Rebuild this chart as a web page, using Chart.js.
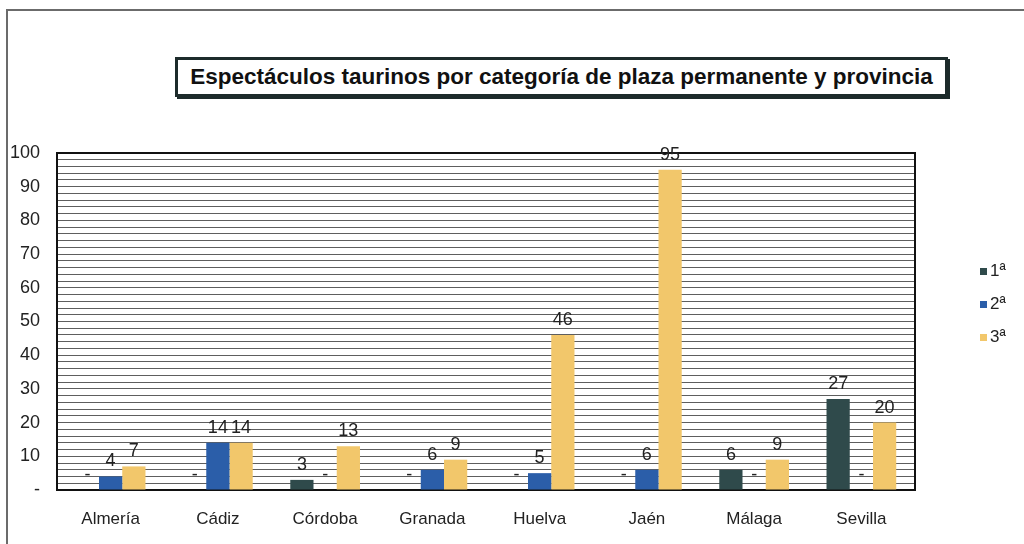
<!DOCTYPE html>
<html lang="es">
<head>
<meta charset="utf-8">
<title>Espectáculos taurinos por categoría de plaza permanente y provincia</title>
<script src="https://cdn.jsdelivr.net/npm/chart.js@4.4.1/dist/chart.umd.min.js"></script>
<style>
    html, body { margin: 0; padding: 0; background: #fff; }
    #wrap { position: relative; width: 1024px; height: 544px; overflow: hidden; }
    #marco { position: absolute; left: 6px; top: 9px; width: 1040px; height: 560px;
             border-left: 2px solid #6b6b6b; border-top: 2px solid #6b6b6b; }
    #titulo { position: absolute; left: 175px; top: 57px; width: 767px; height: 34px;
              border: 3px solid #1d2b2b; box-shadow: 2px 2px 0 #1d2b2b;
              font: bold 22.5px "Liberation Sans", Arial, sans-serif; white-space: nowrap;
              line-height: 34px; text-align: center; color: #111; }
    canvas { position: absolute; left: 0; top: 0; }
</style>
</head>
<body>
<div id="wrap">
    <div id="marco"></div>
    <div id="titulo">Espectáculos taurinos por categoría de plaza permanente y provincia</div>
    <canvas id="grafico" width="1024" height="544"></canvas>
</div>
<script>
// datos (0 = "-")
const provincias = ['Almería', 'Cádiz', 'Córdoba', 'Granada', 'Huelva', 'Jaén', 'Málaga', 'Sevilla'];
const categorias = ['1ª', '2ª', '3ª'];
const primera = [0, 0, 3, 0, 0, 0, 6, 27];
const segunda = [4, 14, 0, 6, 5, 6, 0, 0];
const tercera = [7, 14, 13, 9, 46, 95, 9, 20];
const marcasY = [10, 20, 30, 40, 50, 60, 70, 80, 90, 100];

const colores = ['#2f4a4b', '#2b5ea9', '#f2c76b'];
const fuente = '"Liberation Sans", Arial, sans-serif';

// borde negro alrededor del área del gráfico
const marcoPlot = {
    id: 'marcoPlot',
    beforeDatasetsDraw(chart) {
        const { ctx, chartArea: a } = chart;
        ctx.save();
        ctx.strokeStyle = '#111';
        ctx.lineWidth = 2;
        ctx.strokeRect(a.left, a.top, a.right - a.left, a.bottom - a.top);
        ctx.restore();
    }
};

// valores encima de cada barra
const etiquetas = {
    id: 'etiquetas',
    afterDatasetsDraw(chart) {
        const ctx = chart.ctx;
        ctx.save();
        ctx.fillStyle = '#222';
        ctx.textAlign = 'center';
        ctx.textBaseline = 'middle';
        ctx.font = '18px ' + fuente;
        chart.data.datasets.forEach((ds, i) => {
            chart.getDatasetMeta(i).data.forEach((bar, j) => {
                const v = ds.data[j];
                ctx.fillText(v === 0 ? '-' : String(v), bar.x, bar.y - 15);
            });
        });
        ctx.restore();
    }
};

// leyenda a la derecha
const leyenda = {
    id: 'leyenda',
    afterDraw(chart) {
        const ctx = chart.ctx;
        ctx.save();
        ctx.font = '17px ' + fuente;
        ctx.textBaseline = 'middle';
        ctx.textAlign = 'left';
        chart.data.datasets.forEach((ds, i) => {
            const y = 271 + i * 33;
            ctx.fillStyle = ds.backgroundColor;
            ctx.fillRect(980, y - 3, 7, 7);
            ctx.fillStyle = '#222';
            ctx.fillText(ds.label, 990, y);
        });
        ctx.restore();
    }
};

const datasets = [primera, segunda, tercera].map((serie, i) => ({
    label: categorias[i],
    data: serie,
    backgroundColor: colores[i],
    borderWidth: 0,
    barPercentage: 1.0,
    categoryPercentage: 0.65
}));

new Chart(document.getElementById('grafico'), {
    type: 'bar',
    data: { labels: provincias, datasets: datasets },
    plugins: [marcoPlot, etiquetas, leyenda],
    options: {
        responsive: false,
        animation: false,
        layout: { padding: { top: 153, right: 109, left: 0, bottom: 0 } },
        plugins: {
            legend: { display: false },
            title: { display: false },
            tooltip: { enabled: false }
        },
        scales: {
            x: {
                grid: { display: false, drawTicks: false },
                border: { display: false },
                ticks: { color: '#222', padding: 19, font: { family: fuente, size: 17 } },
                afterFit: (s) => { s.height = 54; }
            },
            y: {
                min: 0,
                max: 100,
                grid: { color: '#5e5e5e', lineWidth: 1, drawTicks: false },
                border: { display: false },
                ticks: {
                    stepSize: 2,
                    autoSkip: false,
                    padding: 17,
                    color: '#222',
                    font: { family: fuente, size: 18 },
                    callback: (v) => v === 0 ? '-' : (marcasY.includes(v) ? String(v) : '')
                },
                afterFit: (s) => { s.width = 57; }
            }
        }
    }
});
</script>
</body>
</html>
